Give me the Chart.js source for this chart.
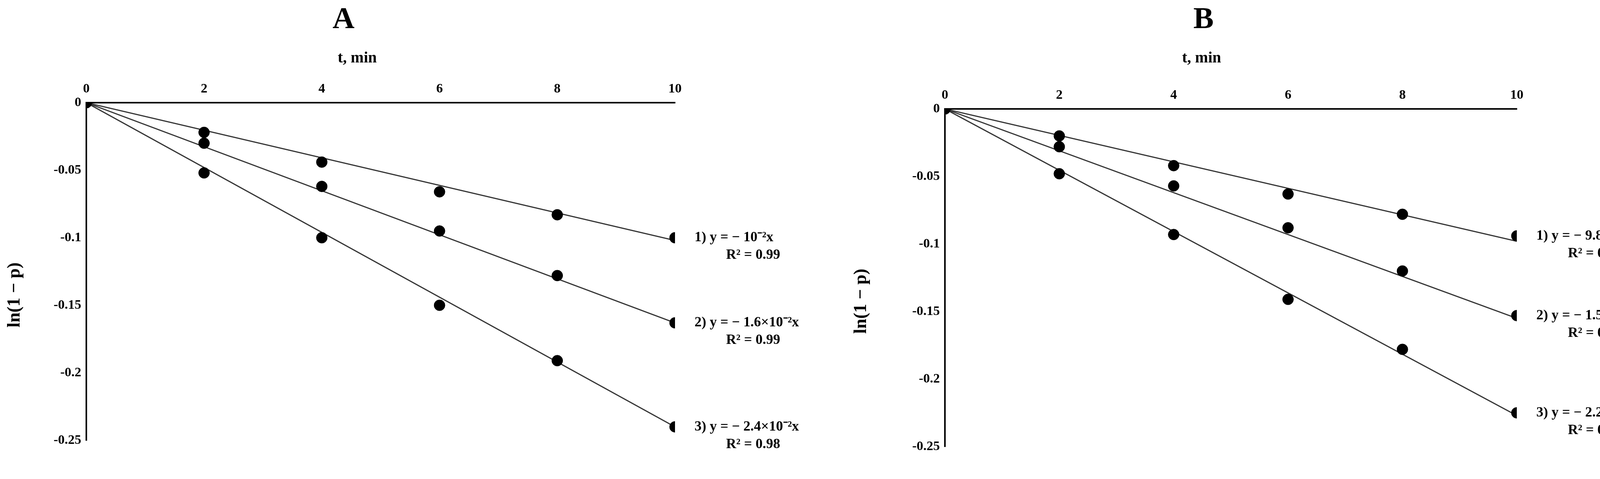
<!DOCTYPE html>
<html><head><meta charset="utf-8">
<script src="https://cdn.jsdelivr.net/npm/chart.js@4"></script>
<style>body{margin:0;background:#fff;width:4334px;height:1227px;overflow:hidden}
.p{position:absolute;top:0;width:2167px;height:1227px}</style></head>
<body><div class="p" style="left:0"><canvas id="a" width="2167" height="1227"></canvas></div><div class="p" style="left:2167px"><canvas id="b" width="2167" height="1227"></canvas></div>
<script>
const times=[0,2,4,6,8,10];
const yTicks=[0,-0.05,-0.1,-0.15,-0.2,-0.25];
const A1=[0,-0.022,-0.044,-0.066,-0.083,-0.1];
const A2=[0,-0.03,-0.062,-0.095,-0.128,-0.163];
const A3=[0,-0.052,-0.1,-0.15,-0.191,-0.24];
const B1=[0,-0.02,-0.042,-0.063,-0.078,-0.094];
const B2=[0,-0.028,-0.057,-0.088,-0.12,-0.153];
const B3=[0,-0.048,-0.093,-0.141,-0.178,-0.225];
const slopesA=[-0.0102,-0.0163,-0.024];
const slopesB=[-0.0098,-0.0155,-0.0227];
const eqA=[["1) y = − 10⁻²x","R² = 0.99"],["2) y = − 1.6×10⁻²x","R² = 0.99"],["3) y = − 2.4×10⁻²x","R² = 0.98"]];
const eqB=[["1) y = − 9.8×10⁻³x","R² = 0.99"],["2) y = − 1.55×10⁻²x","R² = 0.99"],["3) y = − 2.27×10⁻²x","R² = 0.99"]];
const F='"Liberation Serif", serif';
function make(id,title,series,slopes,eqs,L,R,T,B){
  const ds=[];
  series.forEach((s,i)=>{
    ds.push({data:times.map((t,j)=>({x:t,y:s[j]})),showLine:false,pointRadius:14,pointBackgroundColor:'#000',pointBorderColor:'#000',eq:eqs[i]});
    ds.push({data:[{x:0,y:0},{x:10,y:slopes[i]*10}],showLine:true,borderColor:'#333',borderWidth:3,pointRadius:0});
  });
  new Chart(document.getElementById(id),{type:'scatter',data:{datasets:ds},
  options:{responsive:false,animation:false,devicePixelRatio:1,
   layout:{padding:{left:0,top:0,right:2167-R,bottom:1227-B}},
   plugins:{legend:{display:false},tooltip:{enabled:false}},
   scales:{
    x:{type:'linear',position:'top',min:0,max:10,afterFit:s=>{s.height=T;},
       ticks:{stepSize:2,font:{family:F,size:34,weight:'bold'},color:'#000',padding:6},
       grid:{display:false,drawTicks:true},border:{color:'#000',width:4}},
    y:{min:-0.25,max:0,afterFit:s=>{s.width=L;},afterBuildTicks:s=>{s.ticks=yTicks.map(v=>({value:v}));},
       ticks:{font:{family:F,size:34,weight:'bold'},color:'#000',callback:v=>String(v)},
       grid:{display:false,drawTicks:true,tickLength:10},border:{color:'#000',width:4}}
   }},
  plugins:[{id:'txt',afterDraw(c){
    const x=c.scales.x,y=c.scales.y,ctx=c.ctx;ctx.save();ctx.fillStyle='#000';
    ctx.textAlign='center';ctx.textBaseline='middle';
    ctx.font='bold 78px '+F;ctx.fillText(title,(x.left+x.right)/2-(title=='A'?95:70),52);
    ctx.font='bold 40px '+F;ctx.fillText('t, min',(x.left+x.right)/2-(title=='A'?60:75),150);
    ctx.save();ctx.translate(38,(y.top+y.bottom)/2+60);ctx.rotate(-Math.PI/2);ctx.font='bold 46px '+F;ctx.fillText('ln(1 − p)',0,0);ctx.restore();
    ctx.font='bold 36px '+F;
    c.data.datasets.forEach(d=>{if(!d.eq)return;const v=d.data[5].y;const px=x.right+50,py=y.getPixelForValue(v);
      ctx.textAlign='left';ctx.fillText(d.eq[0],px,py);ctx.textAlign='center';ctx.fillText(d.eq[1],px+150,py+45);});
    ctx.restore();}}]});
}
make('a','A',[A1,A2,A3],slopesA,eqA,221,1728,263,1128);
make('b','B',[B1,B2,B3],slopesB,eqB,252,1716,279,1144);
</script></body></html>
